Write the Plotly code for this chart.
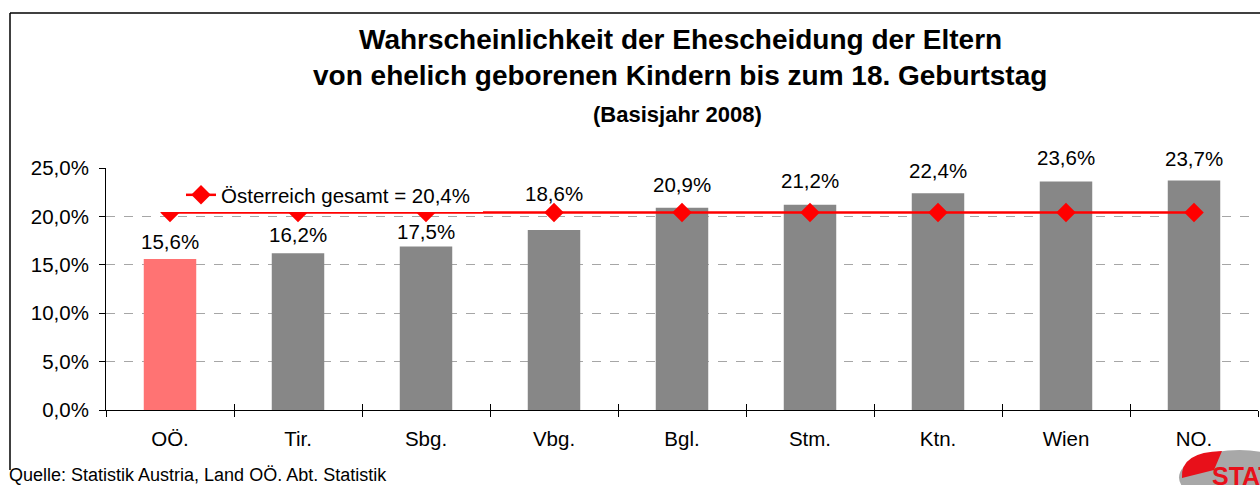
import plotly.graph_objects as go

# ---- data ----
categories = ["OÖ.", "Tir.", "Sbg.", "Vbg.", "Bgl.", "Stm.", "Ktn.", "Wien", "NO."]
bar_values = [15.6, 16.2, 16.9, 18.6, 20.9, 21.2, 22.4, 23.6, 23.7]
bar_labels = ["15,6%", "16,2%", "17,5%", "18,6%", "20,9%", "21,2%", "22,4%", "23,6%", "23,7%"]
austria_total = [20.4, 20.4, 20.4, 20.4, 20.4, 20.4, 20.4, 20.4, 20.4]
austria_name = "Österreich gesamt = 20,4%"
y_tick_values = [0, 5, 10, 15, 20, 25]
y_tick_labels = ["0,0%", "5,0%", "10,0%", "15,0%", "20,0%", "25,0%"]

title_lines = [
    "Wahrscheinlichkeit der Ehescheidung der Eltern",
    "von ehelich geborenen Kindern bis zum 18. Geburtstag",
    "(Basisjahr 2008)",
]
source_text = "Quelle: Statistik Austria, Land OÖ. Abt. Statistik"

# ---- styling ----
FONT = "Arial, Liberation Sans, sans-serif"
BODY = 20.5
W, H = 1260, 485
L, R, T, B = 106, 2, 168, 75
PW = W - L - R
PH = H - T - B

# vertical distance (px) of each value label's centre above its bar top
label_gap_px = [17.5, 19, 14.5, 36, 23, 24.5, 22.5, 24, 22.5]


def px(x):
    return (x - L) / PW


def py(y):
    return (H - B - y) / PH


bar_colors = ["#FF7373"] + ["#878787"] * (len(categories) - 1)

fig = go.Figure()
fig.add_trace(go.Bar(
    x=categories, y=bar_values,
    marker=dict(color=bar_colors, line=dict(width=0)),
    showlegend=False, hoverinfo="skip",
))
fig.add_trace(go.Scatter(
    x=categories, y=austria_total, mode="lines+markers",
    name=austria_name, xaxis="x2",
    line=dict(color="#FF0000", width=2.5),
    marker=dict(symbol="diamond", size=15, color="#FF0000"),
    cliponaxis=False, showlegend=True,
))

shapes = [
    # white legend box (covers the line, as in the original)
    dict(type="rect", xref="paper", yref="paper", layer="above",
         x0=px(108), x1=px(483), y0=py(212), y1=py(177),
         fillcolor="white", line=dict(width=0)),
    # chart frame: top and left border
    dict(type="line", xref="paper", yref="paper", layer="above",
         x0=px(10), x1=px(1265), y0=py(13), y1=py(13),
         line=dict(color="black", width=1.5)),
    dict(type="line", xref="paper", yref="paper", layer="above",
         x0=px(10), x1=px(10), y0=py(13), y1=py(470),
         line=dict(color="black", width=1.5)),
    # logo
    dict(type="circle", xref="paper", yref="paper", layer="above",
         x0=px(1179), x1=px(1300), y0=py(505), y1=py(450),
         fillcolor="#A8A8A8", line=dict(width=0)),
    dict(type="path", xref="paper", yref="paper", layer="above",
         path=(f"M {px(1182)},{py(478)} Q {px(1180)},{py(452)} {px(1222)},{py(451)} "
               f"L {px(1214)},{py(470)} Z"),
         fillcolor="#E8101A", line=dict(width=0)),
]

annotations = [
    dict(text=f"<b>{title_lines[0]}</b>", x=px(680), y=py(39), xref="paper", yref="paper",
         xanchor="center", yanchor="middle", showarrow=False,
         font=dict(family=FONT, size=28, color="black")),
    dict(text=f"<b>{title_lines[1]}</b>", x=px(680), y=py(75), xref="paper", yref="paper",
         xanchor="center", yanchor="middle", showarrow=False,
         font=dict(family=FONT, size=28, color="black")),
    dict(text=f"<b>{title_lines[2]}</b>", x=px(677), y=py(114), xref="paper", yref="paper",
         xanchor="center", yanchor="middle", showarrow=False,
         font=dict(family=FONT, size=22, color="black")),
    dict(text=source_text, x=px(7), y=py(475), xref="paper", yref="paper",
         xanchor="left", yanchor="middle", showarrow=False,
         font=dict(family=FONT, size=18, color="black")),
    dict(text="<b>STAT</b>", x=px(1210), y=py(476), xref="paper", yref="paper",
         xanchor="left", yanchor="middle", showarrow=False,
         font=dict(family=FONT, size=25, color="#E8101A")),
]

for cat, val, lab, gap in zip(categories, bar_values, bar_labels, label_gap_px):
    annotations.append(dict(
        text=lab, x=cat, y=val, xref="x", yref="y",
        xanchor="center", yanchor="middle", yshift=gap, showarrow=False,
        font=dict(family=FONT, size=BODY, color="black"),
    ))

fig.update_layout(
    width=W, height=H, autosize=False,
    margin=dict(l=L, r=R, t=T, b=B, pad=0),
    paper_bgcolor="white", plot_bgcolor="white",
    bargap=0.59,
    font=dict(family=FONT, size=BODY, color="black"),
    showlegend=True,
    legend=dict(
        x=px(181), y=py(195), xanchor="left", yanchor="middle",
        bgcolor="rgba(0,0,0,0)", borderwidth=0,
        font=dict(family=FONT, size=BODY, color="black"),
    ),
    shapes=shapes,
    annotations=annotations,
    xaxis=dict(
        type="category", range=[-0.5, len(categories) - 0.5],
        categoryorder="array", categoryarray=categories,
        showgrid=False, zeroline=False,
        showline=True, linecolor="black", linewidth=1,
        ticks="outside", tickson="boundaries", ticklen=6, tickcolor="black",
        tickfont=dict(family=FONT, size=BODY, color="black"),
        ticklabelstandoff=10,
    ),
    xaxis2=dict(
        type="category", overlaying="x", matches="x", side="bottom",
        categoryorder="array", categoryarray=categories,
        showgrid=False, zeroline=False, showline=False,
        ticks="inside", tickson="boundaries", ticklen=6, tickcolor="black",
        showticklabels=False,
    ),
    yaxis=dict(
        range=[0, 25], tickmode="array", tickvals=y_tick_values, ticktext=y_tick_labels,
        showgrid=True, gridcolor="#A6A6A6", griddash="dash", gridwidth=1,
        zeroline=False,
        showline=True, linecolor="black", linewidth=1,
        ticks="outside", ticklen=6, tickcolor="black",
        tickfont=dict(family=FONT, size=BODY, color="black"),
        ticklabelstandoff=6,
    ),
)

fig.write_html("out.html", config={"displayModeBar": False},
               post_script="document.body.style.margin='0';")
